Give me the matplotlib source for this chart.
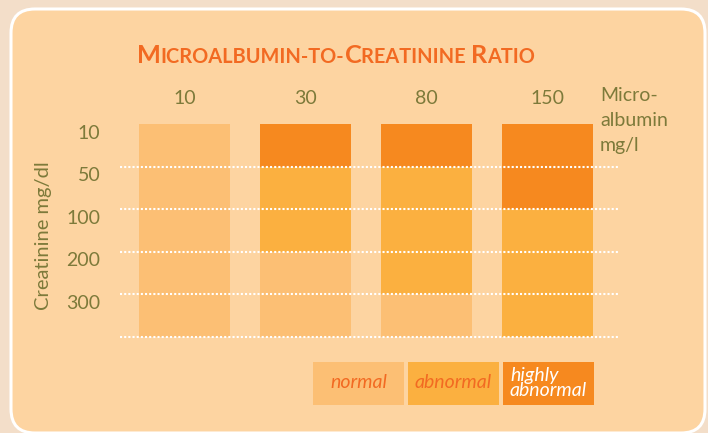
import matplotlib
matplotlib.use("Agg")
import matplotlib.pyplot as plt
from matplotlib.patches import FancyBboxPatch, Rectangle

# ---------------- data ----------------
albumin_labels = ["10", "30", "80", "150"]          # Microalbumin mg/l (columns)
creatinine_labels = ["10", "50", "100", "200", "300"]  # Creatinine mg/dl (rows)
categories = ["normal", "abnormal", "highly\nabnormal"]
# category index per column (top row -> bottom row): 0 normal, 1 abnormal, 2 highly abnormal
col_10 = [0, 0, 0, 0, 0]
col_30 = [2, 1, 1, 0, 0]
col_80 = [2, 1, 1, 1, 0]
col_150 = [2, 2, 1, 1, 1]
status = [col_10, col_30, col_80, col_150]

title = "Microalbumin-to-Creatinine Ratio"

# ---------------- style ----------------
W, H = 708, 433
OUTER = "#F3DEC9"
PANEL = "#FDD4A1"
CAT_COLORS = ["#FCBF74", "#FBB040", "#F6891F"]
OLIVE = "#7D7A3A"
TITLE_C = "#F26A22"
FONT = "Lato"

plt.rcParams["font.family"] = [FONT, "DejaVu Sans"]

fig = plt.figure(figsize=(W / 100, H / 100), dpi=100, facecolor=OUTER)

# background axes in pixel coordinates
bg = fig.add_axes([0, 0, 1, 1], zorder=0)
bg.set_xlim(0, W)
bg.set_ylim(H, 0)
bg.axis("off")
bg.add_patch(FancyBboxPatch((11, 9), 694, 424, boxstyle="round,pad=0,rounding_size=24",
                            facecolor=PANEL, edgecolor="white", linewidth=2.2))

# data axes
x0, x1, y0, y1 = 120, 620, 124, 337
ax = fig.add_axes([x0 / W, 1 - y1 / H, (x1 - x0) / W, (y1 - y0) / H], zorder=2)
ax.set_facecolor("none")
ax.set_xlim(-0.533, 3.6)
ax.set_ylim(len(creatinine_labels), 0)
for s in ax.spines.values():
    s.set_visible(False)

bar_w = 0.752
for j, col in enumerate(status):
    for i, c in enumerate(col):
        ax.bar(j, 1, bottom=i, width=bar_w, color=CAT_COLORS[c], linewidth=0, zorder=1)

for k in range(1, len(creatinine_labels) + 1):
    ax.axhline(k, color="white", linestyle=(0, (1, 1)), linewidth=1.5, zorder=3, clip_on=False)

ax.set_xticks(range(len(albumin_labels)))
ax.set_xticklabels(albumin_labels)
ax.xaxis.tick_top()
ax.tick_params(axis="x", length=0, pad=12, labelsize=14, labelcolor=OLIVE)
ax.set_yticks([i + 0.18 for i in range(len(creatinine_labels))])
ax.set_yticklabels(creatinine_labels)
ax.tick_params(axis="y", length=0, pad=14, labelsize=14, labelcolor=OLIVE)

# axis titles
bg.text(600, 87, "Micro-\nalbumin\nmg/l", ha="left", va="top", fontsize=14,
        color=OLIVE, linespacing=1.58)
bg.text(44, 236, "Creatinine mg/dl", rotation=90, ha="center", va="center",
        fontsize=14.5, color=OLIVE)

# small-caps title
renderer = fig.canvas.get_renderer()
runs = []
for ch in title:
    big = ch.isupper()
    txt = ch.upper()
    if runs and runs[-1][1] == big:
        runs[-1][0] += txt
    else:
        runs.append([txt, big])
xpos = 137
for txt, big in runs:
    t = bg.text(xpos, 63, txt, fontsize=18.3 if big else 14.4, color=TITLE_C,
                ha="left", va="baseline", fontweight="bold")
    bb = t.get_window_extent(renderer)
    xpos += bb.width

# legend
lx = [313, 408, 503]
for k, cat in enumerate(categories):
    bg.add_patch(Rectangle((lx[k], 362), 91, 43, facecolor=CAT_COLORS[k], edgecolor="none"))
    if k < 2:
        bg.text(lx[k] + 45.5, 383, cat, ha="center", va="center", fontsize=14,
                style="italic", color=TITLE_C)
    else:
        bg.text(lx[k] + 7, 383, cat, ha="left", va="center", fontsize=14,
                style="italic", color="white", linespacing=0.92)

fig.savefig("out.png", dpi=100, facecolor=OUTER)
